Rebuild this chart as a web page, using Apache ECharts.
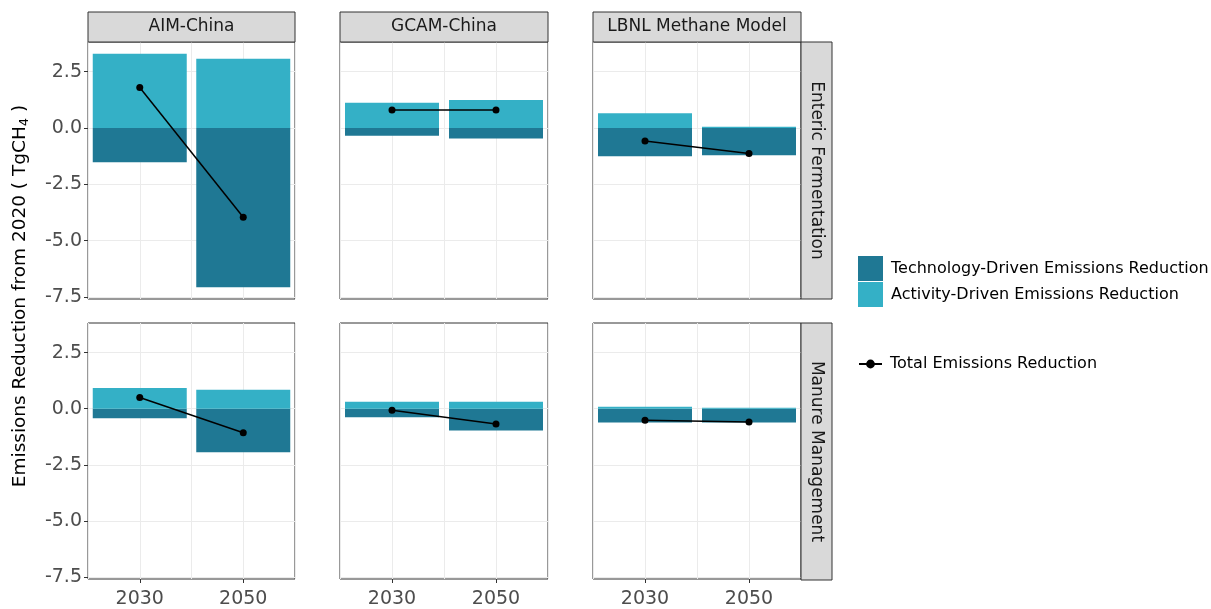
<!DOCTYPE html>
<html>
<head>
<meta charset="utf-8">
<title>Methane emissions reduction by driver</title>
<script src="https://cdn.jsdelivr.net/npm/echarts@6/dist/echarts.min.js"></script>
<style>
  html, body { margin: 0; padding: 0; background: #fff; }
  #chart { width: 1211px; height: 609px; }
</style>
</head>
<body>
<div id="chart"></div>
<script>
// ---- data (TgCH4, reduction relative to 2020) ----
const models = ['AIM-China', 'GCAM-China', 'LBNL Methane Model'];
const sources = ['Enteric Fermentation', 'Manure Management'];
const years = ['2030', '2050'];
const yTicks = [-7.5, -5.0, -2.5, 0.0, 2.5];

// one row per model, one value per year
const entericActivity = [[3.30, 3.08], [1.12, 1.25], [0.66, 0.06]];
const entericTech     = [[-1.52, -7.07], [-0.34, -0.46], [-1.25, -1.21]];
const entericTotal    = [[1.80, -3.96], [0.80, 0.80], [-0.57, -1.13]];

const manureActivity  = [[0.92, 0.84], [0.31, 0.31], [0.09, 0.04]];
const manureTech      = [[-0.43, -1.94], [-0.38, -0.97], [-0.62, -0.62]];
const manureTotal     = [[0.50, -1.07], [-0.07, -0.68], [-0.52, -0.59]];

const activityBySource = [entericActivity, manureActivity];
const techBySource = [entericTech, manureTech];
const totalBySource = [entericTotal, manureTotal];

// ---- layout / style ----
const FONT = '"DejaVu Sans", sans-serif';
const TECH_COLOR = '#1F7894';
const ACT_COLOR = '#34B0C6';
const cols = [{ left: 88, width: 207 }, { left: 340, width: 208 }, { left: 593, width: 208 }];
const rows = [{ top: 42, height: 257 }, { top: 323, height: 257 }];
const STRIP = 30;
const Y_MIN = -7.59, Y_MAX = 3.82;

const NAME_TECH = 'Technology-Driven Emissions Reduction';
const NAME_ACT = 'Activity-Driven Emissions Reduction';
const NAME_TOTAL = 'Total Emissions Reduction';

const grid = [], xAxis = [], yAxis = [], series = [], graphic = [];

rows.forEach((r, ri) => {
  cols.forEach((c, ci) => {
    const gi = grid.length;
    grid.push({
      left: c.left, top: r.top, width: c.width, height: r.height,
      show: true, borderColor: '#333333', borderWidth: 1, backgroundColor: '#fff'
    });
    const isBottom = ri === rows.length - 1;
    const isLeft = ci === 0;
    // labelled axis: major grid lines at the two years
    xAxis.push({
      type: 'value', gridIndex: gi, min: -0.5, max: 1.5, position: 'bottom',
      axisLine: { show: false, onZero: false },
      axisTick: { show: isBottom, customValues: [0, 1], length: 4, lineStyle: { color: '#333333' } },
      axisLabel: {
        show: isBottom, customValues: [0, 1], margin: 11,
        formatter: v => years[Math.round(v)],
        color: '#4D4D4D', fontSize: 19, fontFamily: FONT
      },
      splitLine: { show: true, lineStyle: { color: '#EBEBEB', width: 1 } }
    });
    // helper axis: minor grid line between the years
    xAxis.push({
      type: 'value', gridIndex: gi, min: -0.5, max: 1.5, interval: 1, position: 'top',
      axisLine: { show: false, onZero: false }, axisTick: { show: false }, axisLabel: { show: false },
      splitLine: { show: true, lineStyle: { color: '#EBEBEB', width: 1 } }
    });
    yAxis.push({
      type: 'value', gridIndex: gi, min: Y_MIN, max: Y_MAX, position: 'left',
      axisLine: { show: false, onZero: false },
      axisTick: { show: isLeft, customValues: yTicks, length: 4, lineStyle: { color: '#333333' } },
      axisLabel: {
        show: isLeft, customValues: yTicks, margin: 6,
        formatter: v => v.toFixed(1),
        color: '#4D4D4D', fontSize: 19, fontFamily: FONT
      },
      splitLine: { show: true, lineStyle: { color: '#EBEBEB', width: 1 } }
    });
    const xi = gi * 2;
    const act = activityBySource[ri][ci];
    const tech = techBySource[ri][ci];
    const tot = totalBySource[ri][ci];
    series.push({
      name: NAME_TECH, type: 'bar', xAxisIndex: xi, yAxisIndex: gi,
      stack: 'drivers' + gi, barWidth: 94,
      itemStyle: { color: TECH_COLOR },
      data: tech.map((v, i) => [i, v]), silent: true
    });
    series.push({
      name: NAME_ACT, type: 'bar', xAxisIndex: xi, yAxisIndex: gi,
      stack: 'drivers' + gi, barWidth: 94,
      itemStyle: { color: ACT_COLOR },
      data: act.map((v, i) => [i, v]), silent: true
    });
    series.push({
      name: NAME_TOTAL, type: 'line', xAxisIndex: xi, yAxisIndex: gi,
      symbol: 'circle', symbolSize: 7, z: 5,
      lineStyle: { color: '#000', width: 1.5 },
      itemStyle: { color: '#000' },
      data: tot.map((v, i) => [i, v]), silent: true
    });
  });
});

// facet strips: model names on top
cols.forEach((c, ci) => {
  graphic.push({
    type: 'rect', shape: { x: c.left, y: rows[0].top - STRIP, width: c.width, height: STRIP },
    style: { fill: '#D9D9D9', stroke: '#333333', lineWidth: 1 }, z: 10
  });
  graphic.push({
    type: 'text', x: c.left + c.width / 2, y: rows[0].top - STRIP / 2,
    style: { text: models[ci], fill: '#1A1A1A', fontSize: 17, fontFamily: FONT, align: 'center', verticalAlign: 'middle' },
    z: 11
  });
});
// facet strips: emission sources on the right
const lastCol = cols[cols.length - 1];
rows.forEach((r, ri) => {
  const x0 = lastCol.left + lastCol.width;
  graphic.push({
    type: 'rect', shape: { x: x0, y: r.top, width: STRIP + 1, height: r.height },
    style: { fill: '#D9D9D9', stroke: '#333333', lineWidth: 1 }, z: 10
  });
  graphic.push({
    type: 'text', x: x0 + (STRIP + 1) / 2, y: r.top + r.height / 2, rotation: -Math.PI / 2,
    style: { text: sources[ri], fill: '#1A1A1A', fontSize: 17, fontFamily: FONT, align: 'center', verticalAlign: 'middle' },
    z: 11
  });
});
// shared y-axis title, centred on the panel area including strips
graphic.push({
  type: 'text', x: 20, y: (rows[0].top - STRIP + rows[1].top + rows[1].height) / 2, rotation: Math.PI / 2,
  style: {
    text: 'Emissions Reduction from 2020 ( TgCH{sub|4} )',
    fill: '#000', fontSize: 18.5, fontFamily: FONT, align: 'center', verticalAlign: 'middle',
    rich: { sub: { fontSize: 13, fontFamily: FONT, fill: '#000', verticalAlign: 'bottom', padding: [9, 0, 0, 0] } }
  }
});

const option = {
  animation: false,
  backgroundColor: '#fff',
  grid, xAxis, yAxis, series, graphic,
  legend: [
    {
      data: [NAME_TECH, NAME_ACT], orient: 'vertical', left: 858, top: 256, padding: 0,
      itemWidth: 25, itemHeight: 25, itemGap: 1, icon: 'rect', selectedMode: false,
      textStyle: { color: '#000', fontSize: 16, fontFamily: FONT, padding: [0, 0, 0, 3] }
    },
    {
      data: [NAME_TOTAL], orient: 'vertical', left: 858, top: 356, padding: 0,
      itemWidth: 23, itemHeight: 11, selectedMode: false,
      textStyle: { color: '#000', fontSize: 16, fontFamily: FONT, padding: [0, 0, 0, 3] }
    }
  ]
};

const chart = echarts.init(document.getElementById('chart'), null, { renderer: 'canvas' });
chart.setOption(option);
</script>
</body>
</html>
